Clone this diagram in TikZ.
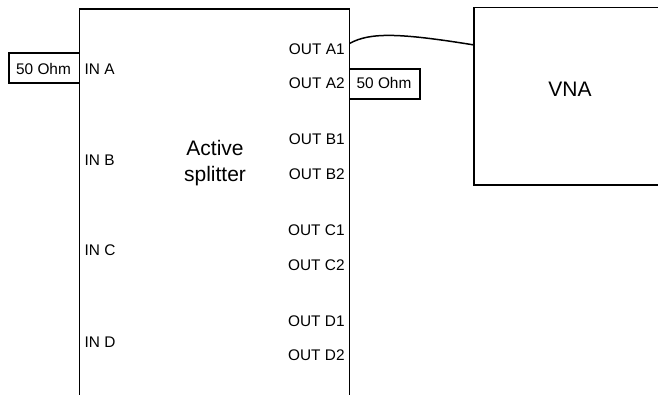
\documentclass[tikz,border=0pt]{standalone}
\usepackage{fontspec}
\setmainfont{Liberation Sans}
\begin{document}
\begin{tikzpicture}[x=1pt,y=-1pt,
  box/.style={draw,line width=1.8pt,inner sep=0pt},
  port/.style={inner sep=0pt,font=\fontsize{15.4}{18}\selectfont},
  inport/.style={port,anchor=base west},
  outport/.style={port,anchor=base east},
  big/.style={inner sep=0pt,font=\fontsize{21}{26.6}\selectfont,align=center}]
\useasboundingbox (0,0) rectangle (658,394);
\clip (0,0) rectangle (658,394);
% main boxes
\node[box,minimum width=270pt,minimum height=410pt] (splitter) at (214.5,214.3) {};
\node[box,minimum width=192pt,minimum height=177.5pt] (vna) at (570.3,96.3) {};
\node[big,anchor=base] (vnatxt) at (570,96.7) {VNA};
\node[big,anchor=base] (act) at (215,181.7) {Active\\splitter};
% terminations
\node[box,minimum width=70.5pt,minimum height=29.4pt] (termA) at (44.25,68) {};
\node[port,anchor=base] (termAt) at (43.5,74) {50 Ohm};
\node[box,minimum width=70.5pt,minimum height=30pt] (termB) at (384.75,84) {};
\node[port,anchor=base] (termBt) at (384,88.7) {50 Ohm};
% input labels
\node[inport] (ina) at (84.5,74) {IN A};
\node[inport] (inb) at (84.5,165) {IN B};
\node[inport] (inc) at (84.5,255.7) {IN C};
\node[inport] (ind) at (84.5,347.3) {IN D};
% output labels
\node[outport] (oa1) at (344.8,54) {OUT A1};
\node[outport] (oa2) at (344.8,88.7) {OUT A2};
\node[outport] (ob1) at (344.8,144) {OUT B1};
\node[outport] (ob2) at (344.8,179.3) {OUT B2};
\node[outport] (oc1) at (344.8,235.7) {OUT C1};
\node[outport] (oc2) at (344.8,270.3) {OUT C2};
\node[outport] (od1) at (344.8,326) {OUT D1};
\node[outport] (od2) at (344.8,360) {OUT D2};
% cable
\coordinate (ca) at (349.5,43.5);
\coordinate (cb) at (474.3,45);
\draw[line width=1.5pt] (ca) .. controls (370,32) and (400,33) .. (cb);
\end{tikzpicture}
\end{document}
